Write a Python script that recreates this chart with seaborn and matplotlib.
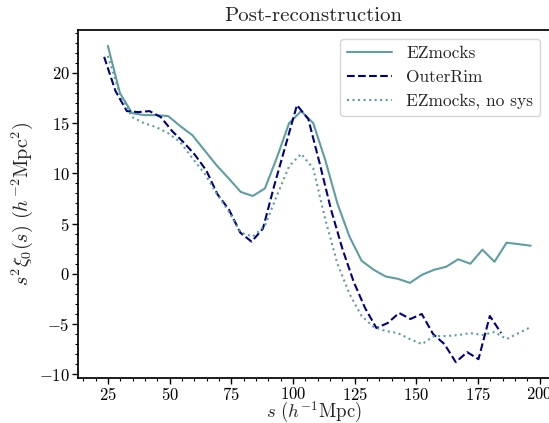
import numpy as np
import pandas as pd
import seaborn as sns
import matplotlib.pyplot as plt
from matplotlib.ticker import AutoMinorLocator

# separation bins (h^-1 Mpc)
s_ez = [24.9, 29.8, 34.7, 39.6, 44.5, 49.4, 54.3, 59.2, 64.1, 69.0, 73.9, 78.8,
        83.7, 88.6, 93.5, 98.4, 103.3, 108.2, 113.1, 118.0, 122.9, 127.8, 132.7, 137.6,
        142.5, 147.4, 152.3, 157.2, 162.1, 167.0, 171.9, 176.8, 181.7, 186.6, 191.5, 196.4]
s_or = [23.4, 28.0, 32.6, 37.2, 41.8, 46.4, 51.0, 55.6, 60.2, 64.8, 69.4, 74.0,
        78.6, 83.2, 87.8, 92.4, 97.0, 101.6, 106.2, 110.8, 115.4, 120.0, 124.6, 129.2,
        133.8, 138.4, 143.0, 147.6, 152.2, 156.8, 161.4, 166.0, 170.6, 175.2, 179.8, 184.4]

# s^2 xi_0(s)
ezmocks = [22.7, 18.0, 16.0, 15.8, 15.8, 15.7, 14.7, 13.8, 12.3, 10.8, 9.5, 8.15,
           7.75, 8.5, 11.6, 15.0, 16.2, 15.0, 11.3, 7.0, 3.7, 1.3, 0.4, -0.27,
           -0.5, -0.9, -0.1, 0.4, 0.7, 1.45, 1.0, 2.4, 1.2, 3.1, 2.95, 2.8]
outerrim = [21.6, 18.2, 16.2, 16.1, 16.2, 15.6, 14.2, 13.1, 11.85, 10.3, 7.9, 6.4,
            4.1, 3.2, 4.5, 8.8, 12.8, 16.8, 15.4, 11.0, 6.4, 2.5, -0.8, -3.4,
            -5.4, -4.9, -3.9, -4.5, -4.0, -6.0, -7.0, -8.8, -7.8, -8.5, -4.2, -5.9]
ez_nosys = [21.7, 17.9, 15.6, 15.0, 14.6, 14.0, 13.1, 11.5, 10.0, 8.0, 6.2, 4.1,
            3.7, 4.8, 7.8, 10.7, 11.95, 10.5, 5.4, 1.0, -2.0, -4.2, -5.3, -5.7,
            -5.9, -6.5, -7.0, -6.2, -6.2, -6.1, -5.9, -6.1, -5.8, -6.5, -5.9, -5.3]

sns.set_theme(style="ticks")
plt.rcParams["font.family"] = ["serif"]
plt.rcParams["font.serif"] = ["cmr10", "DejaVu Serif"]
plt.rcParams["mathtext.fontset"] = "cm"
plt.rcParams["axes.formatter.use_mathtext"] = True
plt.rcParams["axes.edgecolor"] = "black"
plt.rcParams["xtick.color"] = "black"
plt.rcParams["ytick.color"] = "black"

fig = plt.figure(figsize=(5.49, 4.23), dpi=100)
ax = fig.add_axes([78 / 549, 45 / 423, 471 / 549, 348 / 423])

sns.lineplot(x=s_ez, y=ezmocks, color="cadetblue", lw=1.5, label="EZmocks", ax=ax)
sns.lineplot(x=s_or, y=outerrim, color="navy", lw=1.5, linestyle="--", label="OuterRim", ax=ax)
sns.lineplot(x=s_ez, y=ez_nosys, color="cadetblue", lw=1.5, linestyle=":", label="EZmocks, no sys", ax=ax)

ax.set_xlim(12.8, 203.8)
ax.spines["right"].set_visible(False)
ax.xaxis.set_minor_locator(AutoMinorLocator())
ax.yaxis.set_minor_locator(AutoMinorLocator())
ax.tick_params(which="major", length=4.5, width=1, labelsize=12, pad=1.5)
ax.tick_params(which="minor", length=2.5, width=0.8)

ax.set_xlabel(r"$s\ (h^{-1}\mathrm{Mpc})$", fontsize=13.5)
ax.xaxis.set_label_coords(0.5, -0.064)
ax.set_ylabel(r"$s^2\xi_0(s)\ (h^{-2}\mathrm{Mpc}^2)$", fontsize=14.5, labelpad=3)
ax.set_title("Post-reconstruction", fontsize=15, pad=6.5)
ax.legend(loc="upper right", fontsize=12.5, frameon=True, handlelength=2.6)

fig.savefig("out.png", dpi=100)
